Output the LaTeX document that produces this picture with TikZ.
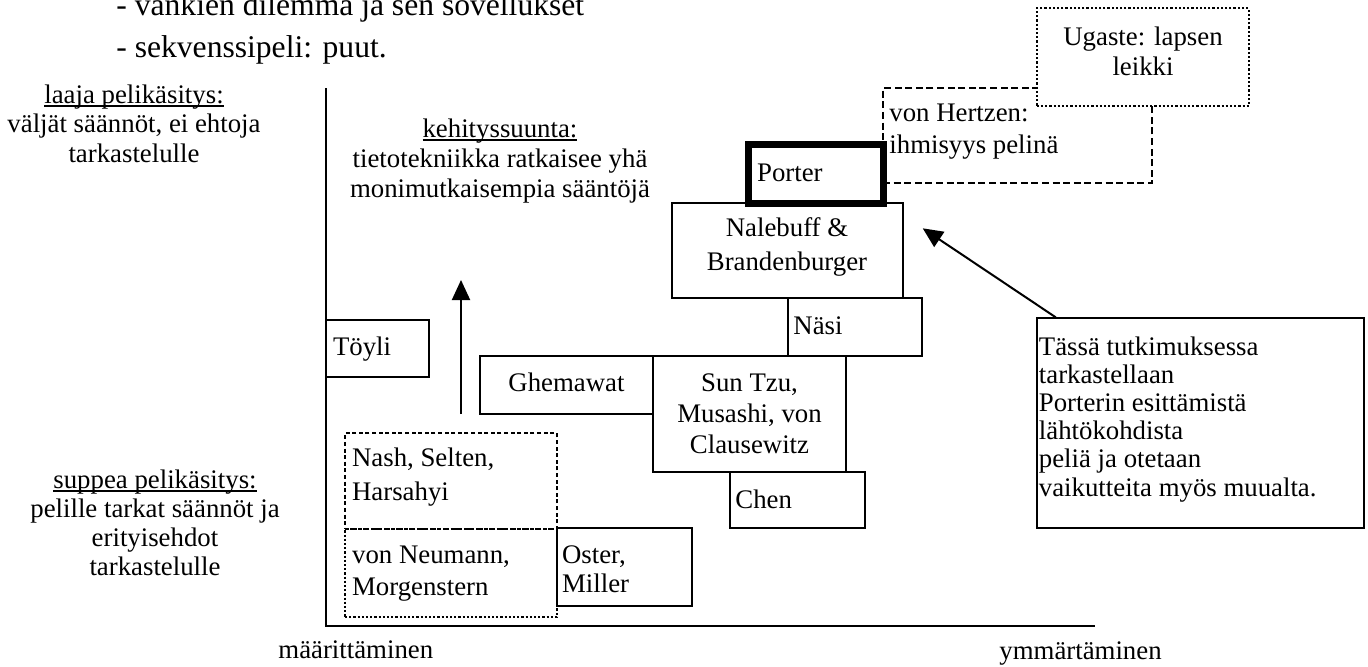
\documentclass[tikz,border=0pt]{standalone}
\usepackage{fontspec}
\setmainfont{Liberation Serif}
\usetikzlibrary{arrows.meta,fit}
% word-processor style underline, close under the baseline
\newsavebox\ulbox
\newcommand\wordul[1]{\sbox\ulbox{#1}\rlap{\rule[-2pt]{\wd\ulbox}{1pt}}\usebox\ulbox}
\newcommand\bodyfs[1]{\fontsize{13.4}{#1}\selectfont}

\begin{document}
% multi-line texts are placed by the baseline of their last line
\begin{tikzpicture}[x=0.5pt,y=-0.5pt,
  box/.style={draw, line width=1pt, inner sep=0pt},
  porterbox/.style={draw, line width=3.5pt, inner sep=0pt},
  dashbox/.style={draw, line width=1pt, inner sep=0pt, dash pattern=on 3.5pt off 1.8pt},
  shortdash/.style={draw, line width=1pt, inner sep=0pt, dash pattern=on 2pt off 1.3pt},
  dotbox/.style={draw, line width=1pt, inner sep=0pt, dash pattern=on 1.1pt off 1pt},
  txt/.style={inner sep=0pt, anchor=base west, align=left, font=\bodyfs{14.3}},
  ctxt/.style={inner sep=0pt, anchor=base, align=center, font=\bodyfs{14.3}},
  axis/.style={line width=1pt},
  pointer/.style={line width=1pt, -{Triangle[length=10pt,width=9pt]}}]
\useasboundingbox (0,0) rectangle (1368,666);

% list of topics above the chart
\node[txt, font=\fontsize{15.8}{20.6}\selectfont] (topics) at (116,57)
  {- vankien dilemma ja sen sovellukset\\- sekvenssipeli: puut.};

% labels of the vertical scale
\node[ctxt, font=\bodyfs{14.75}] (wide) at (134,162)
  {\wordul{laaja pelikäsitys:}\\väljät säännöt, ei ehtoja\\tarkastelulle};
\node[ctxt, font=\bodyfs{14.5}] (narrow) at (155,575)
  {\wordul{suppea pelikäsitys:}\\pelille tarkat säännöt ja\\erityisehdot\\tarkastelulle};

% labels of the horizontal scale
\node[txt] (defining) at (278,658) {määrittäminen};
\node[txt] (understanding) at (999,659) {ymmärtäminen};

% development direction
\node[ctxt, font=\bodyfs{15}] (trend) at (500,197)
  {\wordul{kehityssuunta:}\\tietotekniikka ratkaisee yhä\\monimutkaisempia sääntöjä};

% axes
\coordinate (ytop) at (325.5,88);
\coordinate (xend) at (1095,625.5);
\draw[axis] (ytop) |- (xend);

% broad views of play
\node[dashbox, fit={(883,88) (1152,183.3)}] (hertzen) {};
\node[txt, font=\bodyfs{15.8}] (hertzenT) at (889,153.3) {von Hertzen:\\ihmisyys pelinä};
\node[dotbox, fill=white, fit={(1036.7,8.3) (1249,106)}] (ugaste) {};
\node[ctxt, font=\bodyfs{15}] (ugasteT) at (1143,75) {Ugaste: lapsen\\leikki};

% strategy literature
\node[box, fit={(671.7,202.7) (902.5,298.3)}] (nalebuff) {};
\node[ctxt, font=\bodyfs{16.6}] (nalebuffT) at (787,270) {Nalebuff \&\\Brandenburger};
\node[porterbox, fit={(748.5,144.5) (883.5,203)}] (porter) {};
\node[txt] (porterT) at (756.7,181.7) {Porter};
\node[box, fit={(787.7,298.3) (921.7,356)}] (nasi) {};
\node[txt] (nasiT) at (793,334.5) {Näsi};
\node[box, fit={(326,320) (429,377)}] (toyli) {};
\node[txt] (toyliT) at (332.6,355) {Töyli};
\node[box, fit={(480,356) (653,414)}] (ghemawat) {};
\node[ctxt] (ghemawatT) at (566.5,391.7) {Ghemawat};
\node[box, fit={(653,356) (846,472)}] (suntzu) {};
\node[ctxt, font=\bodyfs{15.4}] (suntzuT) at (749.5,453.3) {Sun Tzu,\\Musashi, von\\Clausewitz};
\node[box, fit={(730,472) (865,528.3)}] (chen) {};
\node[txt] (chenT) at (735,508.3) {Chen};
\node[box, fit={(556.7,528.3) (691.7,606)}] (oster) {};
\node[txt, font=\bodyfs{14.8}] (osterT) at (561.7,592.7) {Oster,\\Miller};

% game theory classics
\node[shortdash, fit={(345,433.3) (556.7,529.3)}] (nash) {};
\node[txt, font=\bodyfs{16.6}] (nashT) at (351.7,500) {Nash, Selten,\\Harsahyi};
\node[dotbox, fit={(345,529.3) (556.7,617.3)}] (neumann) {};
\node[txt, font=\bodyfs{15.8}] (neumannT) at (351.7,595) {von Neumann,\\Morgenstern};

% focus of this study
\node[box, fit={(1036.7,318.3) (1364,528.3)}] (tassa) {};
\node[txt, font=\bodyfs{14.1}] (tassaT) at (1038.5,496)
  {Tässä tutkimuksessa\\tarkastellaan\\Porterin esittämistä\\lähtökohdista\\peliä ja otetaan\\vaikutteita myös muualta.};

% arrows
\coordinate (trendFoot) at (461,414);
\coordinate (trendHead) at (461,280);
\draw[pointer] (trendFoot) -- (trendHead);
\coordinate (focusHead) at (922.7,228.3);
\draw[pointer] ([xshift=10pt]tassa.north west) -- (focusHead);
\end{tikzpicture}
\end{document}
